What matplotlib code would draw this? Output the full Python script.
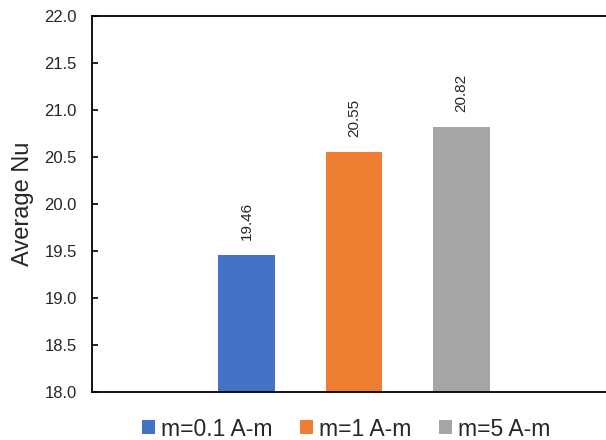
import matplotlib
matplotlib.use('Agg')
import matplotlib.pyplot as plt
from matplotlib.patches import Patch

# Datos
series = ['m=0.1 A-m', 'm=1 A-m', 'm=5 A-m']
valores = [19.46, 20.55, 20.82]
colores = ['#4472C4', '#ED7D31', '#A5A5A5']
posiciones = [0, 1, 2]
yticks = [18.0, 18.5, 19.0, 19.5, 20.0, 20.5, 21.0, 21.5, 22.0]

plt.rcParams['font.family'] = ['Liberation Sans', 'DejaVu Sans']

fig = plt.figure(figsize=(6.06, 4.4), dpi=100)
ax = fig.add_axes([92/606, 48/440, 1 - 92/606, (392-16)/440])

barras = ax.bar(posiciones, [v - 18 for v in valores], bottom=18, width=0.53,
                color=colores)

# Etiquetas de valor encima de cada barra
for x, v in zip(posiciones, valores):
    ax.annotate(f'{v:.2f}', xy=(x, v), xytext=(0, 10.8),
                textcoords='offset points', rotation=90,
                ha='center', va='bottom', fontsize=11, color='#262626')

ax.set_xlim(-1.437, 3.344)
ax.set_ylim(18, 22)
ax.set_yticks(yticks)
ax.set_yticklabels([f'{t:.1f}' for t in yticks])
ax.set_xticks([])
ax.tick_params(axis='y', direction='in', length=4, width=1.2, pad=11,
               labelsize=12, labelcolor='#262626')

for lado in ['left', 'top', 'bottom']:
    ax.spines[lado].set_linewidth(1.3)
    ax.spines[lado].set_color('black')
ax.spines['right'].set_visible(False)

ax.set_ylabel('Average Nu', fontsize=17, color='#262626', va='center')
ax.yaxis.set_label_coords(-0.134, 0.5)

# Leyenda
handles = [Patch(facecolor=c, edgecolor='none') for c in colores]
fig.legend(handles, series, loc='center', bbox_to_anchor=(346.5/606, 11/440),
           ncol=3, frameon=False, fontsize=16.5, handlelength=0.57,
           handleheight=0.57, handletextpad=0.26, columnspacing=1.2,
           labelcolor='#262626', borderpad=0, borderaxespad=0)

fig.savefig('out.png', dpi=100)
